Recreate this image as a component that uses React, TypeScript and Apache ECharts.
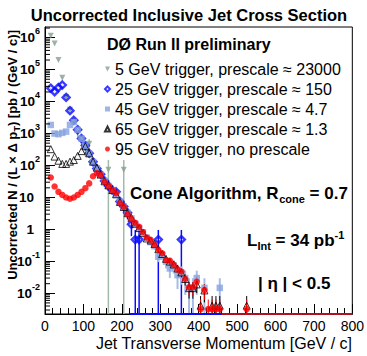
import React, { useEffect, useRef } from 'react';
import * as echarts from 'echarts';

const FONT = '"Liberation Sans", Arial, Helvetica, sans-serif';
const Y_MIN = 0.00225;
const Y_MAX = 2.16e6;

// 5 GeV trigger, prescale ~ 23000
const ptGray = [15, 25, 35, 45, 55, 65, 75, 85, 95, 105, 115, 165, 205];
const valGray = [1.15e6, 6.6e5, 2.0e5, 5.6e4, 1.4e4, 5600, 2500, 1050, 630, 355, 480, 74, 74];
const oneEventGray = 74;

// 25 GeV trigger, prescale ~ 150
const ptBlue = [15, 25, 35, 45, 55, 65, 75, 85, 95, 105, 115, 125, 135, 145, 155, 165, 175, 185, 195, 205, 215, 225, 235, 245, 295, 355];
const valBlue = [26300, 20400, 27500, 33100, 13500, 5200, 2600, 1320, 700, 420, 240, 130, 80, 53, 33, 23, 17, 15, 7.5, 5.2, 3.3, 1.45, 0.48, 0.48, 0.48, 0.48];
const oneEventBlue = 0.48;

// 45 GeV trigger, prescale ~ 4.7
const ptLight = [15, 25, 35, 45, 55, 65, 75, 85, 95, 105, 115, 125, 135, 145, 155, 165, 175, 185, 195, 205, 215, 225, 235, 245, 255, 265, 275, 285, 295, 305, 315, 325, 335, 345, 355, 365, 375, 385, 395, 415, 455];
const valLight = [1860, 1000, 955, 1050, 1150, 1860, 2300, 1300, 690, 410, 235, 128, 82, 51, 33, 23, 16.5, 12, 7.4, 5.2, 3.3, 2.2, 1.5, 1.1, 0.8, 0.55, 0.4, 0.3, 0.14, 0.16, 0.098, 0.06, 0.075, 0.037, 0.044, 0.03, 0.0148, 0.0148, 0.03, 0.0148, 0.0148];
const oneEventLight = 0.0148;

// 65 GeV trigger, prescale ~ 1.3
const ptBlack = [15, 25, 35, 45, 55, 65, 75, 85, 95, 105, 115, 125, 135, 145, 155, 165, 175, 185, 195, 205, 215, 225, 235, 245, 255, 265, 275, 285, 295, 305, 315, 325, 335, 345, 355, 365, 375, 385, 395, 405, 415, 435, 445, 455, 525];
const valBlack = [324, 190, 141, 112, 112, 132, 148, 200, 282, 400, 240, 132, 85, 52, 32, 24, 17, 12.6, 7.2, 5.0, 3.2, 2.3, 1.5, 1.1, 0.78, 0.52, 0.45, 0.35, 0.24, 0.17, 0.12, 0.098, 0.08, 0.06, 0.045, 0.028, 0.0145, 0.0145, 0.019, 0.0041, 0.0123, 0.0041, 0.0041, 0.0041, 0.0041];
const oneEventBlack = 0.0041;

// 95 GeV trigger, no prescale
const ptRed = [15, 25, 35, 45, 55, 65, 75, 85, 95, 105, 115, 125, 135, 145, 155, 165, 175, 185, 195, 205, 215, 225, 235, 245, 255, 265, 275, 285, 295, 305, 315, 325, 335, 345, 355, 365, 375, 385, 395, 405, 415, 425, 435, 445, 455, 525];
const valRed = [42, 22, 15, 12, 10, 9.1, 10, 12, 15, 19.5, 27.5, 46, 57, 50, 31, 23, 17, 13.5, 6.6, 5.1, 3.0, 2.1, 1.6, 1.2, 0.83, 0.56, 0.47, 0.33, 0.23, 0.18, 0.11, 0.105, 0.078, 0.056, 0.048, 0.028, 0.0155, 0.0155, 0.023, 0.0032, 0.0126, 0.0032, 0.0032, 0.0032, 0.0032, 0.0032];
const oneEventRed = 0.0032;

// empty-bin ranges drawn along the axis
const blueEmptyRange = [220, 460];
const redEmptyRange = [460, 800];

const names = [
  '5 GeV trigger, prescale ≈ 23000',
  '25 GeV trigger, prescale ≈ 150',
  '45 GeV trigger, prescale ≈ 4.7',
  '65 GeV trigger, prescale ≈ 1.3',
  '95 GeV trigger, no prescale',
];

const GRAY = '#86a090';
const BLUE = '#0a0aff';
const LIGHT = '#86a2e0';
const RED = '#ff0000';

function pairs(xs: number[], ys: number[]) {
  return xs.map((x, i) => [x, ys[i]]);
}

function errSeries(xs: number[], ys: number[], level: number, color: string, width: number) {
  return {
    type: 'custom',
    silent: true,
    z: 2,
    clip: true,
    data: pairs(xs, ys),
    encode: { x: 0, y: 1 },
    renderItem: (_p: any, api: any) => {
      const x = api.value(0);
      const v = api.value(1);
      const e = Math.sqrt(v * level);
      const hi = v + e;
      const lo = Math.max(v - e, Y_MIN);
      const a = api.coord([x, hi]);
      const b = api.coord([x, lo]);
      return {
        type: 'line',
        shape: { x1: a[0], y1: a[1], x2: b[0], y2: b[1] },
        style: { stroke: color, lineWidth: width },
      };
    },
  };
}

const yMinorTicks: number[] = [];
for (let e = -3; e <= 6; e++) {
  for (let k = 2; k <= 9; k++) {
    const v = k * Math.pow(10, e);
    if (v > Y_MIN && v < Y_MAX) yMinorTicks.push(v);
  }
}

export default function App() {
  const ref = useRef<HTMLDivElement>(null);
  useEffect(() => {
    const chart = echarts.init(ref.current!, null, { renderer: 'svg' });
    const option: any = {
      animation: false,
      backgroundColor: '#fff',
      textStyle: { fontFamily: FONT },
      grid: { left: 45, right: 13, top: 27, bottom: 42, show: true, borderColor: '#000', borderWidth: 1, backgroundColor: 'transparent' },
      xAxis: {
        type: 'value',
        min: 0,
        max: 800,
        interval: 100,
        axisLine: { show: true, lineStyle: { color: '#000', width: 1 } },
        axisTick: { show: true, inside: true, length: 10, lineStyle: { color: '#000' } },
        minorTick: { show: true, splitNumber: 5, length: 6, lineStyle: { color: '#000' } },
        splitLine: { show: false },
        axisLabel: { color: '#000', fontSize: 14, fontFamily: FONT, margin: 5 },
      },
      yAxis: {
        type: 'log',
        logBase: 10,
        min: Y_MIN,
        max: Y_MAX,
        splitNumber: 9,
        axisLine: { show: true, lineStyle: { color: '#000', width: 1 } },
        axisTick: { show: true, inside: true, length: 10, lineStyle: { color: '#000' } },
        splitLine: { show: false },
        axisLabel: {
          color: '#000',
          fontSize: 13.5,
          fontWeight: 'bold',
          fontFamily: FONT,
          margin: 5,
          lineHeight: 22,
          showMinLabel: false,
          showMaxLabel: false,
          formatter: (v: number) => {
            const l = Math.log10(v);
            const e = Math.round(l);
            if (Math.abs(l - e) > 1e-4) return '';
            if (e === 0) return '1{p| }';
            if (e === 1) return '10{p| }';
            return '10{s|' + e + '}';
          },
          rich: {
            s: { fontSize: 9, fontWeight: 'bold', fontFamily: FONT, verticalAlign: 'top', lineHeight: 10, color: '#000' },
            p: { width: 6, fontSize: 9 },
          },
        },
      },
      legend: {
        orient: 'vertical',
        left: 104,
        top: 61,
        itemWidth: 5,
        itemHeight: 5,
        itemGap: 4,
        padding: 0,
        selectedMode: false,
        textStyle: { fontSize: 16, fontFamily: FONT, color: '#000', lineHeight: 16 },
        data: [
          { name: names[0], icon: 'path://M0,0L10,0L5,10Z' },
          { name: names[1], icon: 'diamond' },
          { name: names[2], icon: 'rect' },
          { name: names[3], icon: 'triangle' },
          { name: names[4], icon: 'circle' },
        ],
      },
      graphic: [
        { type: 'text', x: 189, y: 15, style: { text: 'Uncorrected Inclusive Jet Cross Section', fontSize: 16.5, fontWeight: 'bold', fontFamily: FONT, fill: '#000', align: 'center', verticalAlign: 'middle' } },
        { type: 'text', x: 107, y: 44, style: { text: 'DØ Run II preliminary', fontSize: 16, fontWeight: 'bold', fontFamily: FONT, fill: '#000', align: 'left', verticalAlign: 'middle' } },
        {
          type: 'text', x: 130, y: 193,
          style: {
            text: 'Cone Algorithm, R{sub|cone} = 0.7', fontSize: 17, fontWeight: 'bold', fontFamily: FONT, fill: '#000', align: 'left', verticalAlign: 'middle', lineHeight: 22,
            rich: { sub: { fontSize: 11, fontWeight: 'bold', fontFamily: FONT, verticalAlign: 'bottom', lineHeight: 11, fill: '#000' } },
          },
        },
        {
          type: 'text', x: 247, y: 240,
          style: {
            text: 'L{sub|Int} = 34 pb{sup|-1}', fontSize: 17, fontWeight: 'bold', fontFamily: FONT, fill: '#000', align: 'left', verticalAlign: 'middle', lineHeight: 22,
            rich: {
              sub: { fontSize: 11, fontWeight: 'bold', fontFamily: FONT, verticalAlign: 'bottom', lineHeight: 11, fill: '#000' },
              sup: { fontSize: 11, fontWeight: 'bold', fontFamily: FONT, verticalAlign: 'top', lineHeight: 11, fill: '#000' },
            },
          },
        },
        { type: 'text', x: 258, y: 283, style: { text: '| η | < 0.5', fontSize: 17, fontWeight: 'bold', fontFamily: FONT, fill: '#000', align: 'left', verticalAlign: 'middle' } },
        { type: 'text', x: 352, y: 343, style: { text: 'Jet Transverse Momentum [GeV / c]', fontSize: 16, fontFamily: FONT, fill: '#000', align: 'right', verticalAlign: 'middle' } },
        {
          type: 'text', x: 12, y: 155, rotation: Math.PI / 2,
          style: {
            text: 'Uncorrected N / (L × Δ p{sub|T}) [pb / (GeV / c)]', fontSize: 13, fontWeight: 'bold', fontFamily: FONT, fill: '#000', align: 'center', verticalAlign: 'middle', lineHeight: 18,
            rich: { sub: { fontSize: 9, fontWeight: 'bold', fontFamily: FONT, verticalAlign: 'bottom', lineHeight: 9, fill: '#000' } },
          },
        },
      ],
      series: [
        {
          type: 'custom', silent: true, z: 4, clip: false,
          data: yMinorTicks.map((v) => [0, v]),
          encode: { x: 0, y: 1 },
          renderItem: (_p: any, api: any) => {
            const a = api.coord([0, api.value(1)]);
            return { type: 'line', shape: { x1: a[0], y1: a[1], x2: a[0] + 5, y2: a[1] }, style: { stroke: '#000', lineWidth: 1 } };
          },
        },
        errSeries(ptGray, valGray, oneEventGray, '#a3b9aa', 1.5),
        errSeries(ptBlue, valBlue, oneEventBlue, BLUE, 1.5),
        errSeries(ptLight, valLight, oneEventLight, '#a8bce8', 2),
        errSeries(ptBlack, valBlack, oneEventBlack, '#000', 1),
        errSeries(ptRed, valRed, oneEventRed, RED, 1),
        {
          type: 'line', silent: true, z: 3, clip: false, symbol: 'none',
          data: [[blueEmptyRange[0], Y_MIN], [blueEmptyRange[1], Y_MIN]],
          lineStyle: { color: BLUE, width: 2 },
        },
        {
          type: 'line', silent: true, z: 3, clip: false, symbol: 'none',
          data: [[redEmptyRange[0], Y_MIN], [redEmptyRange[1], Y_MIN]],
          lineStyle: { color: '#b01020', width: 2 },
        },
        {
          name: names[0], type: 'scatter', z: 3, symbol: 'triangle', symbolRotate: 180, symbolSize: 6,
          itemStyle: { color: GRAY }, data: pairs(ptGray, valGray),
        },
        {
          name: names[1], type: 'scatter', z: 3, symbol: 'diamond', symbolSize: 7,
          itemStyle: { color: 'rgba(255,255,255,0)', borderColor: BLUE, borderWidth: 2.4 }, data: pairs(ptBlue, valBlue),
        },
        {
          name: names[2], type: 'scatter', z: 3, symbol: 'rect', symbolSize: 6.5,
          itemStyle: { color: LIGHT }, data: pairs(ptLight, valLight),
        },
        {
          name: names[3], type: 'scatter', z: 3, symbol: 'triangle', symbolSize: 7,
          itemStyle: { color: 'rgba(255,255,255,0)', borderColor: '#000', borderWidth: 1 }, data: pairs(ptBlack, valBlack),
        },
        {
          name: names[4], type: 'scatter', z: 3, symbol: 'circle', symbolSize: 6.5,
          itemStyle: { color: RED }, data: pairs(ptRed, valRed),
        },
      ],
    };
    chart.setOption(option);
    return () => chart.dispose();
  }, []);
  return <div ref={ref} style={{ position: 'fixed', left: 0, top: 0, width: 367, height: 356, background: '#fff' }} />;
}
